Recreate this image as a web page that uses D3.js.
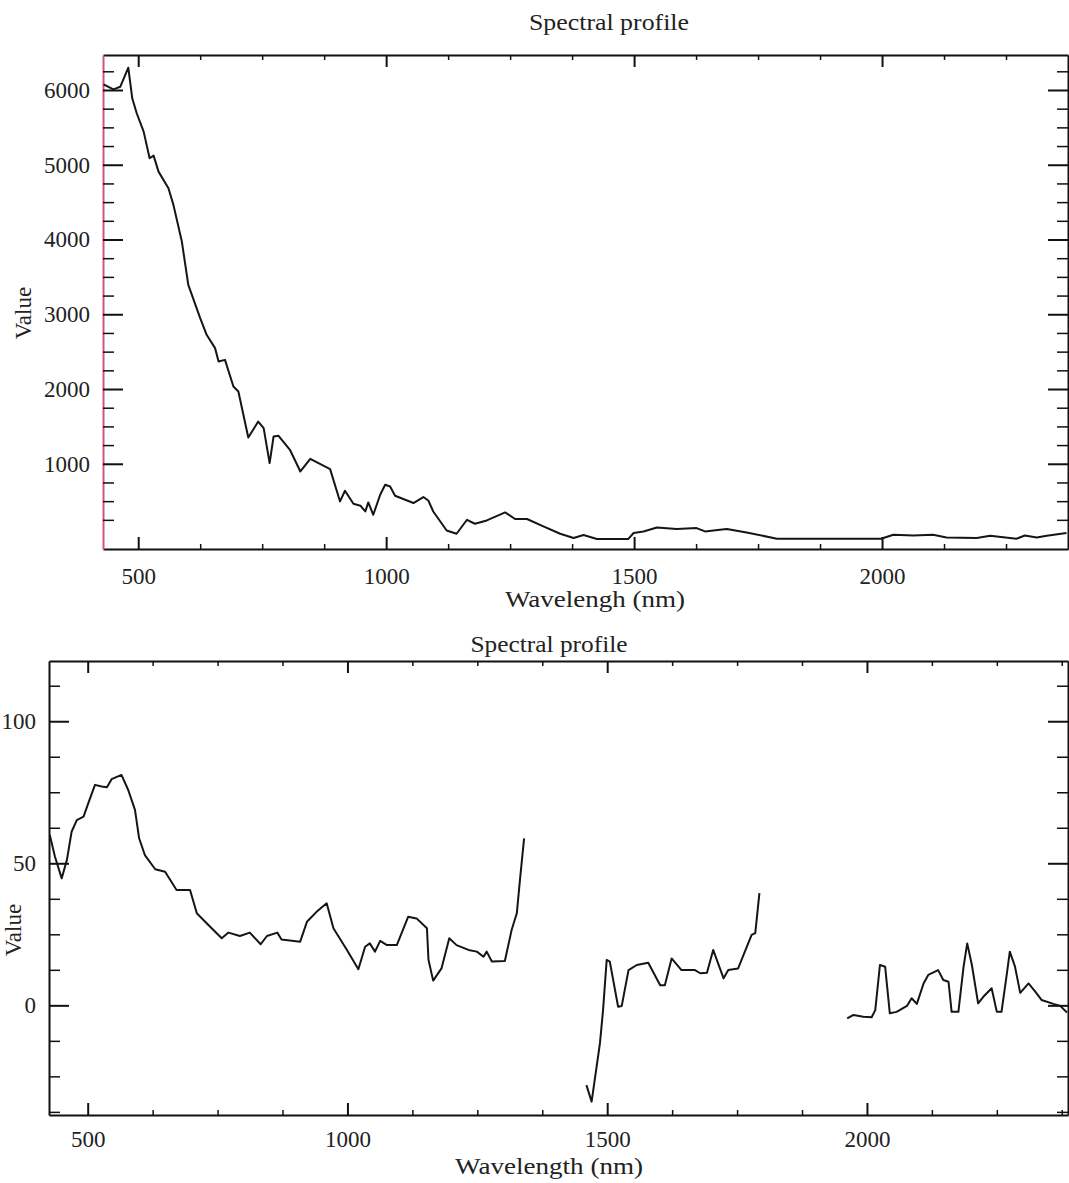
<!DOCTYPE html>
<meta charset="utf-8">
<style>

body {
  margin: 0;
  background: #fff;
}

text {
  font-family: "Liberation Serif", "Times New Roman", serif;
  font-size: 23px;
  fill: #222;
}

.curve {
  fill: none;
  stroke: #151515;
  stroke-width: 2;
  stroke-linejoin: round;
}

.axis path,
.axis line {
  stroke: #111;
  stroke-width: 2;
}

.minor line {
  stroke-width: 1.5;
}

</style>
<svg width="1069" height="1183"></svg>
<script src="https://d3js.org/d3.v7.min.js"></script>
<script>

// ---- top panel: raw spectrum ----
var topWavelength = [430,450,464,480,488,497,511,523,531,541,561,571,588,601,625,638,655,662,675,692,
  702,722,742,753,765,773,783,806,827,847,887,907,917,934,948,958,964,974,988,998,
  1008,1018,1055,1075,1085,1095,1122,1142,1163,1179,1203,1240,1260,1284,1317,1351,1378,1398,1425,1488,
  1499,1519,1546,1586,1626,1643,1673,1687,1727,1788,1969,1998,2023,2063,2103,2130,2191,2218,2271,2288,
  2312,2332,2372];
var topValue = [6076,6009,6044,6298,5889,5689,5443,5087,5122,4908,4686,4463,3972,3393,2948,2725,2547,2368,2390,2033,
  1967,1352,1565,1477,1009,1365,1374,1187,897,1067,929,496,639,465,439,362,483,318,586,719,
  697,572,475,555,509,362,108,64,251,198,242,349,261,261,162,64,7,47,-7,-7,
  74,95,148,127,140,95,118,127,82,-3,-3,-3,51,41,51,15,7,37,-3,41,
  15,37,74];
var topXTicks = [500, 1000, 1500, 2000];
var topYTicks = [1000, 2000, 3000, 4000, 5000, 6000];

// ---- bottom panel: processed spectrum (null = water band gap) ----
var bottomWavelength = [427,437,450,460,469,479,492,501,514,527,537,546,565,578,591,599,610,630,649,671,
  697,710,729,758,771,793,812,833,845,865,873,909,922,941,960,973,999,1021,1034,1043,
  1053,1063,1076,1095,1117,1133,1153,1156,1165,1181,1196,1210,1233,1249,1262,1268,1278,1303,1316,1326,
  1332,1340,
  1400,
  1460,1470,1486,1492,1499,1505,1521,1528,1541,1557,1579,1602,1611,1624,1643,1669,1679,1692,1704,1724,
  1733,1752,1778,1785,1793,
  1880,
  1962,1974,1993,2009,2016,2025,2035,2044,2057,2077,2086,2096,2109,2118,2137,2147,2157,2163,2176,2186,
  2193,2202,2214,2224,2240,2250,2259,2269,2275,2285,2295,2311,2324,2336,2359,2372,2385];
var bottomValue = [60.0,52.3,44.7,51.2,61.1,65.2,66.4,71.1,77.6,77.0,76.8,79.6,81.1,75.8,68.8,58.8,52.9,47.9,47.0,40.6,
  40.6,32.4,28.9,23.6,25.6,24.4,25.6,21.5,24.4,25.6,23.2,22.4,29.4,33.0,35.9,27.1,19.5,12.7,20.6,21.8,
  18.9,22.7,21.2,21.2,31.2,30.6,27.1,16.0,8.7,13.0,23.6,21.2,19.5,18.9,17.1,18.9,15.4,15.6,26.5,32.4,
  44.1,58.8,
  null,
  -28.1,-33.9,-13.4,-1.7,16.0,15.4,-0.5,-0.2,12.4,14.2,15.0,7.1,7.1,16.5,12.4,12.4,11.3,11.5,19.5,9.5,
  12.4,13.0,24.8,25.4,39.5,
  null,
  -4.6,-3.4,-4.0,-4.2,-1.7,14.2,13.6,-2.8,-2.3,-0.2,2.5,0.5,7.7,10.7,12.4,8.9,8.3,-2.3,-2.3,13.6,
  21.8,14.2,0.7,3.0,6.0,-2.3,-2.3,10.7,18.9,13.6,4.4,7.7,4.8,1.9,0.5,-0.2,-2.5];
var bottomXTicks = [500, 1000, 1500, 2000];
var bottomYTicks = [0, 50, 100];

var svg = d3.select("svg");
var fmt = d3.format("d");

function panel(o) {
  var x = d3.scaleLinear().domain(o.xDomain).range(o.xRange);
  var y = d3.scaleLinear().domain(o.yDomain).range(o.yRange);
  var x0 = o.xRange[0], x1 = o.xRange[1], y0 = o.yRange[0], y1 = o.yRange[1];
  var g = svg.append("g");

  var xMinor = d3.range(Math.ceil(o.xDomain[0]), o.xDomain[1], 1)
    .filter(function(d) { return d % o.xStep === 0 && o.xTicks.indexOf(d) < 0; });
  var yMinor = d3.range(Math.ceil(o.yDomain[0] / o.yStep) * o.yStep, o.yDomain[1], o.yStep)
    .filter(function(d) { return o.yTicks.indexOf(d) < 0 && !(o.noZero && d === 0); });

  // bottom + top
  g.append("g").attr("class", "axis").attr("transform", "translate(0," + y0 + ")")
    .call(d3.axisBottom(x).tickValues(o.xTicks).tickFormat(fmt).tickSize(-12).tickSizeOuter(0).tickPadding(o.xPad));
  g.append("g").attr("class", "axis minor").attr("transform", "translate(0," + y0 + ")")
    .call(d3.axisBottom(x).tickValues(xMinor).tickSize(-5).tickFormat(""))
    .select(".domain").remove();
  g.append("g").attr("class", "axis").attr("transform", "translate(0," + y1 + ")")
    .call(d3.axisTop(x).tickValues(o.xTicks).tickSize(-12).tickSizeOuter(0).tickFormat(""));
  g.append("g").attr("class", "axis minor").attr("transform", "translate(0," + y1 + ")")
    .call(d3.axisTop(x).tickValues(xMinor).tickSize(-5).tickFormat(""))
    .select(".domain").remove();

  // left + right
  var left = g.append("g").attr("class", "axis").attr("transform", "translate(" + x0 + ",0)")
    .call(d3.axisLeft(y).tickValues(o.yTicks).tickFormat(fmt).tickSize(-20).tickSizeOuter(0).tickPadding(13));
  left.select(".domain").style("stroke", o.leftColor);
  g.append("g").attr("class", "axis minor").attr("transform", "translate(" + x0 + ",0)")
    .call(d3.axisLeft(y).tickValues(yMinor).tickSize(-11).tickFormat(""))
    .select(".domain").remove();
  g.append("g").attr("class", "axis").attr("transform", "translate(" + x1 + ",0)")
    .call(d3.axisRight(y).tickValues(o.yTicks).tickSize(-20).tickSizeOuter(0).tickFormat(""));
  g.append("g").attr("class", "axis minor").attr("transform", "translate(" + x1 + ",0)")
    .call(d3.axisRight(y).tickValues(yMinor).tickSize(-11).tickFormat(""))
    .select(".domain").remove();

  // let the css font win over d3's axis defaults
  g.selectAll(".axis").attr("font-family", null).attr("font-size", null);

  // curve
  var clipId = "clip" + o.id;
  svg.append("clipPath").attr("id", clipId).append("rect")
    .attr("x", x0).attr("y", y1).attr("width", x1 - x0).attr("height", y0 - y1);
  var pts = o.wl.map(function(d, i) { return { w: d, v: o.val[i] }; });
  var line = d3.line()
    .defined(function(d) { return d.v !== null; })
    .x(function(d) { return x(d.w); })
    .y(function(d) { return y(d.v); });
  g.append("path").datum(pts).attr("class", "curve")
    .attr("clip-path", "url(#" + clipId + ")").attr("d", line);

  // texts
  g.append("text").attr("x", o.titleX).attr("y", o.titleY).attr("text-anchor", "middle")
    .attr("textLength", o.titleW).attr("lengthAdjust", "spacingAndGlyphs").text("Spectral profile");
  g.append("text").attr("x", o.xLabelX).attr("y", o.xLabelY).attr("text-anchor", "middle")
    .attr("textLength", o.xLabelW).attr("lengthAdjust", "spacingAndGlyphs").text(o.xLabel);
  g.append("text").attr("transform", "translate(" + o.yLabelX + "," + o.yLabelY + ") rotate(-90)")
    .attr("text-anchor", "middle").text("Value");
}

panel({
  id: 1,
  wl: topWavelength, val: topValue,
  xDomain: [429, 2375], xRange: [103, 1068],
  yDomain: [-140, 6468], yRange: [549, 55],
  xTicks: topXTicks, yTicks: topYTicks, xStep: 125, yStep: 250, noZero: true,
  xPad: 19, leftColor: "#d4557a",
  titleX: 609, titleY: 30, titleW: 160,
  xLabel: "Wavelengh (nm)", xLabelX: 595, xLabelY: 607, xLabelW: 180,
  yLabelX: 31, yLabelY: 313
});

panel({
  id: 2,
  wl: bottomWavelength, val: bottomValue,
  xDomain: [425.5, 2387], xRange: [49, 1068],
  yDomain: [-38.6, 121.2], yRange: [1115, 661],
  xTicks: bottomXTicks, yTicks: bottomYTicks, xStep: 125, yStep: 12.5, noZero: false,
  xPad: 16, leftColor: "#111",
  titleX: 549, titleY: 652, titleW: 157,
  xLabel: "Wavelength (nm)", xLabelX: 549, xLabelY: 1174, xLabelW: 188,
  yLabelX: 21, yLabelY: 930
});

</script>
